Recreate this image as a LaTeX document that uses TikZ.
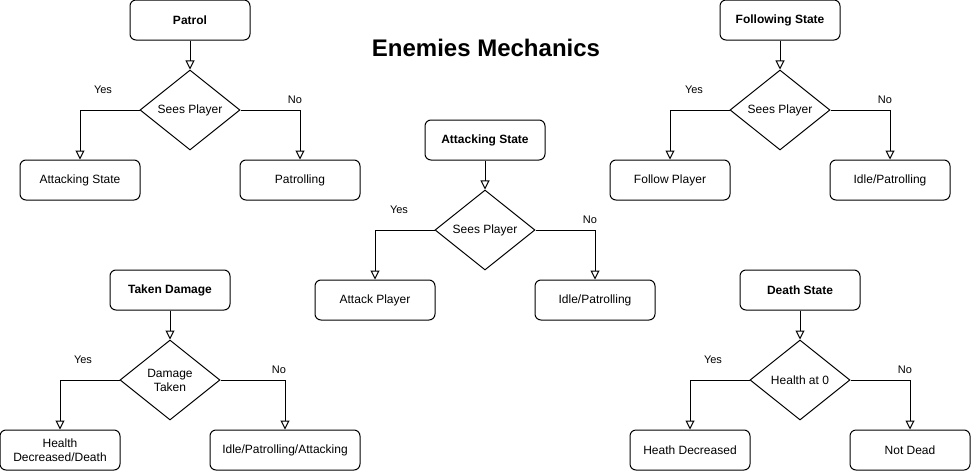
\documentclass[tikz,border=0pt]{standalone}
\usepackage{fontspec}
\setmainfont{Liberation Sans}
\usetikzlibrary{arrows.meta,shapes.geometric}
\begin{document}
\begin{tikzpicture}[x=1pt,y=-1pt,line width=1pt,
  box/.style={draw, rounded corners=6pt, minimum width=120pt, minimum height=40pt, inner sep=0pt, align=center, font=\fontsize{12}{14}\selectfont},
  head/.style={box, font=\fontsize{12}{14}\selectfont\bfseries},
  dec/.style={draw, diamond, minimum width=100pt, minimum height=80pt, aspect=1.25, inner sep=0pt, align=center, font=\fontsize{12}{14}\selectfont},
  lab/.style={inner sep=0pt, font=\fontsize{11}{13}\selectfont},
  arr/.style={-{Triangle[open,length=9pt,width=9pt]}}]
\useasboundingbox (0,0) rectangle (971,471);
\node[font=\fontsize{24}{28}\selectfont\bfseries] (title) at (486,48) {Enemies Mechanics};

% Patrol
\node[head] (p) at (190,20) {Patrol};
\node[dec] (pd) at (190,110) {Sees Player};
\node[box] (pa) at (80,180) {Attacking State};
\node[box] (pb) at (300,180) {Patrolling};
\node[lab] (py) at (103,90) {Yes};
\node[lab] (pn) at (295,100) {No};
\draw[arr] (p) -- (pd);
\draw[arr] (pd.west) -| (pa.north);
\draw[arr] (pd.east) -| (pb.north);

% Following
\node[head] (f) at (780,20) {Following State};
\node[dec] (fd) at (780,110) {Sees Player};
\node[box] (fa) at (670,180) {Follow Player};
\node[box] (fb) at (890,180) {Idle/Patrolling};
\node[lab] (fy) at (694,90) {Yes};
\node[lab] (fn) at (885,100) {No};
\draw[arr] (f) -- (fd);
\draw[arr] (fd.west) -| (fa.north);
\draw[arr] (fd.east) -| (fb.north);

% Attacking
\node[head] (a) at (485,140) {Attacking State};
\node[dec] (ad) at (485,230) {Sees Player};
\node[box] (aa) at (375,300) {Attack Player};
\node[box] (ab) at (595,300) {Idle/Patrolling};
\node[lab] (ay) at (399,210) {Yes};
\node[lab] (an) at (590,220) {No};
\draw[arr] (a) -- (ad);
\draw[arr] (ad.west) -| (aa.north);
\draw[arr] (ad.east) -| (ab.north);

% Taken Damage
\node[head] (t) at (170,290) {Taken Damage};
\node[dec] (td) at (170,380) {Damage\\Taken};
\node[box] (ta) at (60,450) {Health\\Decreased/Death};
\node[box, minimum width=150pt] (tb) at (285,450) {Idle/Patrolling/Attacking};
\node[lab] (ty) at (83,360) {Yes};
\node[lab] (tn) at (279,370) {No};
\draw[arr] (t) -- (td);
\draw[arr] (td.west) -| (ta.north);
\draw[arr] (td.east) -| (tb.north);

% Death
\node[head] (d) at (800,290) {Death State};
\node[dec] (dd) at (800,380) {Health at 0};
\node[box] (da) at (690,450) {Heath Decreased};
\node[box] (db) at (910,450) {Not Dead};
\node[lab] (dy) at (713,360) {Yes};
\node[lab] (dn) at (905,370) {No};
\draw[arr] (d) -- (dd);
\draw[arr] (dd.west) -| (da.north);
\draw[arr] (dd.east) -| (db.north);
\end{tikzpicture}
\end{document}
